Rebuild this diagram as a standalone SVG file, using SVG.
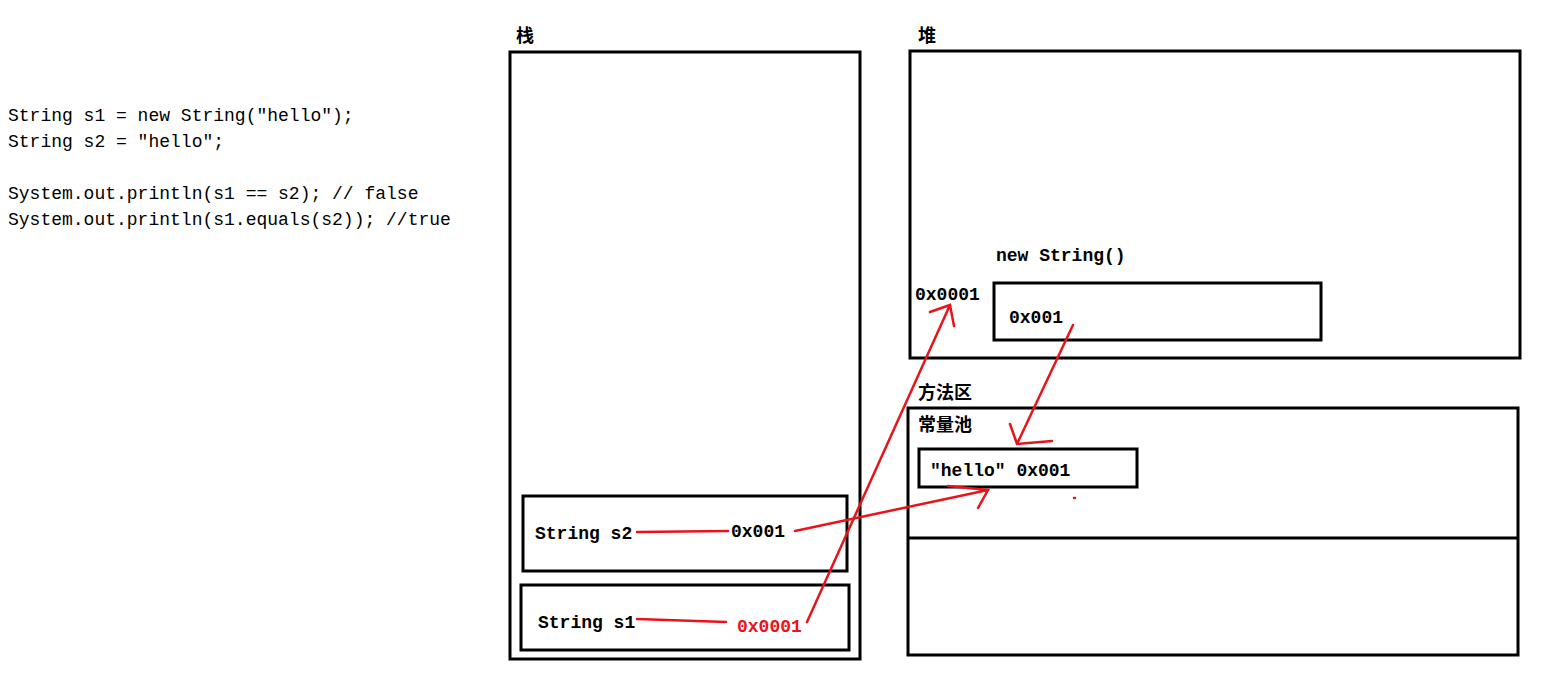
<svg xmlns="http://www.w3.org/2000/svg" width="1548" height="680" viewBox="0 0 1548 680">
<style>
.box{fill:none;stroke:#000;stroke-width:3}
.t{font-family:"Liberation Mono","Noto Sans CJK SC",monospace;font-size:18px;fill:#000}
.b{font-weight:bold}
.cn{font-family:"Noto Sans CJK SC",sans-serif;font-size:18px;font-weight:bold;fill:#000}
.r{fill:none;stroke:#e8141c;stroke-width:2.5;stroke-linecap:round}
</style>
<rect width="1548" height="680" fill="#fff"/>
<g id="code">
<text class="t" x="8" y="121">String s1 = new String("hello");</text>
<text class="t" x="8" y="147">String s2 = "hello";</text>
<text class="t" x="8" y="199">System.out.println(s1 == s2); // false</text>
<text class="t" x="8" y="225">System.out.println(s1.equals(s2)); //true</text>
</g>
<g id="stack">
<text class="cn" x="516" y="42">栈</text>
<rect class="box" x="510" y="52" width="350" height="607"/>
</g>
<g id="s2">
<rect class="box" x="523" y="496" width="324" height="75"/>
<text class="t b" x="535" y="539">String s2</text>
<text class="t b" x="731" y="537">0x001</text>
</g>
<g id="s1">
<rect class="box" x="521" y="585" width="328" height="65"/>
<text class="t b" x="538" y="628">String s1</text>
<text class="t b" x="737" y="632" fill="#e8141c" style="fill:#e8141c">0x0001</text>
</g>
<g id="heap">
<text class="cn" x="918" y="42">堆</text>
<rect class="box" x="910" y="51" width="610" height="307"/>
<text class="t b" x="996" y="261">new String()</text>
<text class="t b" x="915" y="300">0x0001</text>
</g>
<g id="heapobj">
<rect class="box" x="994" y="283" width="327" height="57"/>
<text class="t b" x="1009" y="323">0x001</text>
</g>
<g id="method">
<text class="cn" x="918" y="399">方法区</text>
<rect class="box" x="908" y="408" width="610" height="247"/>
<line class="box" x1="908" y1="538" x2="1518" y2="538"/>
<text class="cn" x="918" y="431">常量池</text>
</g>
<g id="pool">
<rect class="box" x="919" y="449" width="218" height="38"/>
<text class="t b" x="930" y="476">"hello"  0x001</text>
</g>
<g id="connectors">
<path class="r" d="M637,532 L728,531"/>
<path class="r" d="M637,619 L726,622"/>
<path class="r" d="M795,531 L988,490 M948,486 L988,490 L978,508"/>
<path class="r" d="M807,622 L950,305 M930,312 L950,305 L954,326"/>
<path class="r" d="M1073,325 L1017,444 M1010,424 L1017,444 L1052,441"/>
<path class="r" d="M1074,498 L1075,498"/>
</g>
</svg>
